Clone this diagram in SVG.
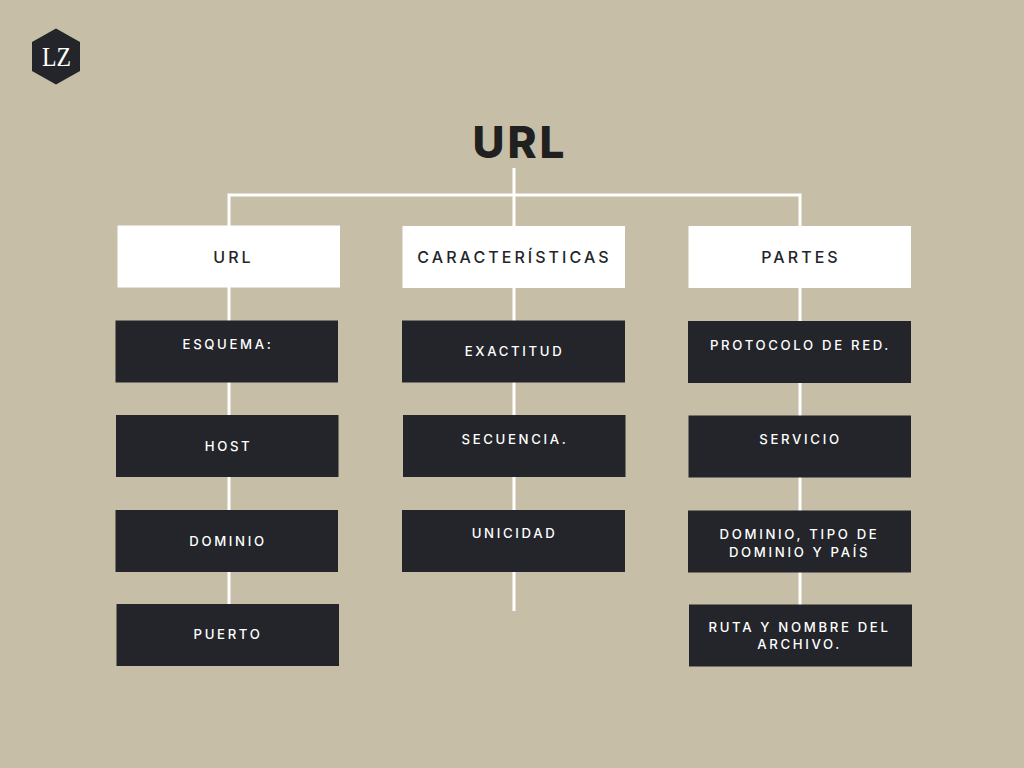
<svg xmlns="http://www.w3.org/2000/svg" width="1024" height="768" viewBox="0 0 1024 768">
<style>
text{font-family:Inter,"Noto Sans","Liberation Sans",sans-serif;text-anchor:middle}
.w{fill:#fff}
.d{fill:#23252a}
.dt{fill:#fff;font-size:13.2px;font-weight:500;letter-spacing:2.65px}
.wt{fill:#23252a;font-size:16px;font-weight:500;letter-spacing:3.05px}
.c{stroke:#fff;stroke-width:3;fill:none}
</style>
<rect width="1024" height="768" fill="#c6bea6"/>
<g id="logo"><polygon class="d" points="56,28.500 80,42 80,71 56,84.500 32,71 32,42"/><text x="56.500" y="66" textLength="29" lengthAdjust="spacingAndGlyphs" style="font-family:'Liberation Serif',serif;font-size:27px" fill="#fff">LZ</text></g>
<text id="title" x="520" y="158" style="font-size:44px;font-weight:800;letter-spacing:3px" fill="#202020">URL</text>
<g id="connectors">
<path class="c" d="M229 604V195H800V605M514 168V611"/>
</g>
<g id="n1"><rect class="w" x="117.500" y="225.500" width="222.500" height="62"/><text class="wt" x="233.500" y="263">URL</text></g>
<g id="n2"><rect class="w" x="402.500" y="226" width="222.500" height="62"/><text class="wt" x="514.500" y="263">CARACTERÍSTICAS</text></g>
<g id="n3"><rect class="w" x="688.500" y="226" width="222.500" height="62"/><text class="wt" x="801" y="263">PARTES</text></g>
<g id="a1"><rect class="d" x="115.500" y="320.500" width="222.500" height="62"/><text class="dt" x="228" y="349">ESQUEMA:</text></g>
<g id="a2"><rect class="d" x="116" y="415" width="222.500" height="62"/><text class="dt" x="228.500" y="451">HOST</text></g>
<g id="a3"><rect class="d" x="115.500" y="510" width="222.500" height="62"/><text class="dt" x="228" y="546">DOMINIO</text></g>
<g id="a4"><rect class="d" x="116.500" y="604" width="222.500" height="62"/><text class="dt" x="228" y="639">PUERTO</text></g>
<g id="b1"><rect class="d" x="402" y="320.500" width="223" height="62"/><text class="dt" x="514.500" y="356">EXACTITUD</text></g>
<g id="b2"><rect class="d" x="403" y="415" width="222.500" height="62"/><text class="dt" x="515" y="444">SECUENCIA.</text></g>
<g id="b3"><rect class="d" x="402" y="510" width="223" height="62"/><text class="dt" x="514.500" y="538">UNICIDAD</text></g>
<g id="c1"><rect class="d" x="688" y="321" width="223" height="62"/><text class="dt" x="800.500" y="350">PROTOCOLO DE RED.</text></g>
<g id="c2"><rect class="d" x="688.500" y="415.500" width="222.500" height="62"/><text class="dt" x="800.500" y="444">SERVICIO</text></g>
<g id="c3"><rect class="d" x="688" y="510.500" width="223" height="62"/><text class="dt" x="799.500" y="539">DOMINIO, TIPO DE</text><text class="dt" x="799.500" y="556.500">DOMINIO Y PAÍS</text></g>
<g id="c4"><rect class="d" x="689" y="604.500" width="223" height="62"/><text class="dt" x="799.500" y="632">RUTA Y NOMBRE DEL</text><text class="dt" x="799.500" y="649">ARCHIVO.</text></g>
</svg>
